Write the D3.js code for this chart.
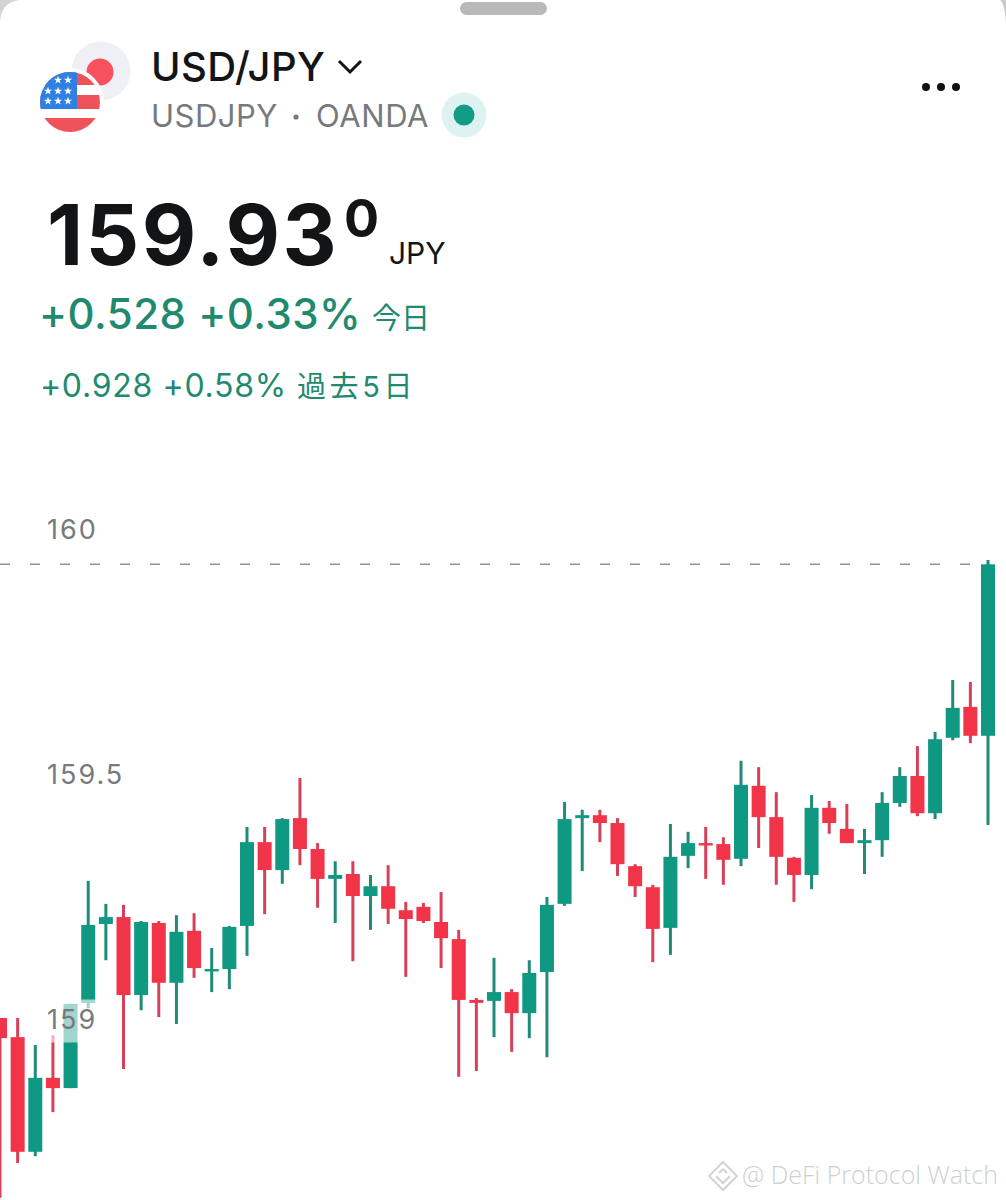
<!DOCTYPE html>
<html>
<head>
<meta charset="utf-8">
<title>USD/JPY</title>
<script src="https://cdn.jsdelivr.net/npm/d3@7/dist/d3.min.js"></script>
<style>
  html, body { margin: 0; padding: 0; background: #fff; }
  svg { display: block; }
  text { font-family: Inter, "Noto Sans CJK JP", sans-serif; }
</style>
</head>
<body>
<script>
// candles, oldest first
const opens = [159.004,158.965,158.731,158.882,158.861,159.035,159.196,159.210,159.051,159.198,159.076,159.182,159.100,159.104,159.192,159.363,159.306,159.412,159.349,159.288,159.298,159.253,159.273,159.224,159.231,159.200,159.165,159.041,159.039,159.057,159.014,159.098,159.237,159.412,159.418,159.402,159.314,159.271,159.188,159.335,159.361,159.359,159.329,159.478,159.414,159.331,159.296,159.433,159.390,159.361,159.367,159.443,159.498,159.422,159.576,159.639,159.580];
const highs = [159.004,159.004,158.949,158.969,159.033,159.284,159.237,159.235,159.202,159.202,159.214,159.218,159.147,159.192,159.394,159.394,159.412,159.494,159.361,159.324,159.324,159.296,159.316,159.241,159.239,159.261,159.184,159.045,159.127,159.063,159.122,159.251,159.445,159.429,159.429,159.412,159.318,159.276,159.400,159.384,159.394,159.373,159.529,159.516,159.465,159.333,159.459,159.447,159.441,159.390,159.465,159.516,159.559,159.588,159.694,159.690,159.939];
const lows = [158.637,158.708,158.722,158.812,158.861,159.024,159.122,158.900,159.020,159.006,158.992,159.086,159.057,159.063,159.131,159.216,159.278,159.316,159.229,159.198,159.120,159.184,159.196,159.088,159.198,159.106,158.884,158.896,158.965,158.935,158.963,158.924,159.233,159.304,159.363,159.294,159.251,159.118,159.133,159.310,159.288,159.276,159.314,159.351,159.276,159.241,159.267,159.380,159.361,159.298,159.333,159.435,159.416,159.410,159.571,159.565,159.398];
const closes = [158.963,158.731,158.882,158.861,159.033,159.194,159.210,159.051,159.200,159.076,159.180,159.106,159.104,159.190,159.363,159.306,159.410,159.349,159.288,159.296,159.253,159.273,159.227,159.206,159.202,159.167,159.041,159.035,159.057,159.014,159.096,159.235,159.410,159.418,159.402,159.318,159.273,159.186,159.333,159.361,159.357,159.327,159.480,159.414,159.333,159.296,159.433,159.402,159.361,159.367,159.443,159.498,159.422,159.573,159.637,159.580,159.930];

const yTicks = [160, 159.5, 159];
const yTickLabels = ['160', '159.5', '159'];
const lastPrice = 159.93;

const GREEN = '#0f9982';
const RED = '#f23448';
const WICK_GREEN = '#1f8c78';
const WICK_RED = '#d8405a';
const TEXT_GREEN = '#1f8a70';
const GREY = '#777a7d';

const width = 1006;
const height = 1200;

const svg = d3.select('body').append('svg')
  .attr('width', width)
  .attr('height', height)
  .attr('viewBox', '0 0 ' + width + ' ' + height);

// scales: 160 sits at y=530, 0.5 is about 245px, candles are 17.64px apart
const x = d3.scaleLinear().domain([0, opens.length - 1]).range([0, 988]);
const y = d3.scaleLinear().domain([160, 159]).range([530, 1020]);

// --- sheet frame
svg.append('path').attr('d', 'M0,24 Q0,2 20,0 L0,0 Z').attr('fill', '#d4d4d4');
svg.append('path').attr('d', 'M1006,24 Q1005,4 1000,0 L1006,0 Z').attr('fill', '#c9c9c9');
svg.append('rect').attr('x', 460).attr('y', 2).attr('width', 87).attr('height', 13)
  .attr('rx', 6.5).attr('fill', '#b9b9b9');

// --- flags
const flags = svg.append('g');
flags.append('circle').attr('cx', 101).attr('cy', 71).attr('r', 29.5).attr('fill', '#eef0f6');
flags.append('circle').attr('cx', 100).attr('cy', 72).attr('r', 13.5).attr('fill', '#f7515e');
flags.append('circle').attr('cx', 70).attr('cy', 102).attr('r', 34).attr('fill', '#fff');
const clip = svg.append('clipPath').attr('id', 'usClip');
clip.append('circle').attr('cx', 70).attr('cy', 102).attr('r', 30);
const us = flags.append('g').attr('clip-path', 'url(#usClip)');
[[72, 13], [95, 14], [118, 15]].forEach(function (s) {
  us.append('rect').attr('x', 40).attr('y', s[0]).attr('width', 60).attr('height', s[1]).attr('fill', '#ef5258');
});
us.append('rect').attr('x', 40).attr('y', 72).attr('width', 37).attr('height', 37).attr('fill', '#2f80e2');
const star = d3.symbol().type(d3.symbolStar).size(22);
[[58, 80], [68, 80], [48, 91], [58, 91], [68, 91], [48, 101], [58, 101], [68, 101]].forEach(function (p) {
  us.append('path').attr('d', star()).attr('fill', '#fff')
    .attr('transform', 'translate(' + p[0] + ',' + p[1] + ')');
});

// --- header text
function label(xPos, yPos, str, size, weight, color, spacing) {
  return svg.append('text').attr('x', xPos).attr('y', yPos)
    .attr('font-size', size).attr('font-weight', weight).attr('fill', color)
    .attr('letter-spacing', spacing || 0).text(str);
}
label(151, 81, 'USD/JPY', 40, 500, '#131416', 0.4);
svg.append('path').attr('d', 'M339,61 L350,72 L361,61').attr('fill', 'none')
  .attr('stroke', '#131416').attr('stroke-width', 3);
label(151, 127, 'USDJPY', 31, 400, GREY, 0.5);
svg.append('circle').attr('cx', 296).attr('cy', 117).attr('r', 2.6).attr('fill', GREY);
label(316, 127, 'OANDA', 31, 400, GREY, 0.6);
svg.append('circle').attr('cx', 464).attr('cy', 115).attr('r', 22.5).attr('fill', '#def2f4');
svg.append('circle').attr('cx', 464).attr('cy', 115).attr('r', 10.5).attr('fill', '#129c85');
[926, 941, 956].forEach(function (cx) {
  svg.append('circle').attr('cx', cx).attr('cy', 87).attr('r', 4).attr('fill', '#111');
});

label(47, 265, '159.93', 84, 700, '#131416', 2.4);
label(344, 237, '0', 52, 700, '#131416');
label(389, 264, 'JPY', 30, 400, '#131416');

label(39, 329, '+0.528 +0.33%', 42, 500, TEXT_GREEN, 0.5);
label(372, 329, '今日', 29, 400, TEXT_GREEN);
label(40, 397, '+0.928 +0.58%', 32, 400, TEXT_GREEN, 0.7);
label(297, 397, '過去5日', 29, 400, TEXT_GREEN, 3.6);

// --- candles
const data = opens.map(function (o, i) {
  return { i: i, open: o, high: highs[i], low: lows[i], close: closes[i] };
});
const bodyWidth = 14;
const candles = svg.append('g').selectAll('g').data(data).join('g');
candles.append('line')
  .attr('x1', function (d) { return x(d.i); })
  .attr('x2', function (d) { return x(d.i); })
  .attr('y1', function (d) { return y(d.high); })
  .attr('y2', function (d) { return y(d.low); })
  .attr('stroke', function (d) { return d.close >= d.open ? WICK_GREEN : WICK_RED; })
  .attr('stroke-width', 3);
candles.append('rect')
  .attr('fill', function (d) { return d.close >= d.open ? GREEN : RED; })
  .attr('x', function (d) { return x(d.i) - bodyWidth / 2; })
  .attr('width', bodyWidth)
  .attr('y', function (d) { return y(Math.max(d.open, d.close)); })
  .attr('height', function (d) { return Math.max(2.4, Math.abs(y(d.open) - y(d.close))); });

// --- last price line
svg.append('line')
  .attr('x1', 0).attr('x2', 980)
  .attr('y1', y(lastPrice)).attr('y2', y(lastPrice))
  .attr('stroke', '#8f9193').attr('stroke-width', 1.6)
  .attr('stroke-dasharray', '10 20');

// --- y axis, labels sit inside the plot with a see-through white plate
const axisG = svg.append('g').attr('transform', 'translate(47,0)')
  .call(d3.axisRight(y)
    .tickValues(yTicks)
    .tickSize(0)
    .tickPadding(0)
    .tickFormat(function (d, i) { return yTickLabels[i]; }));
axisG.select('.domain').remove();
axisG.selectAll('.tick').insert('rect', 'text')
  .attr('x', 0).attr('y', -21).attr('width', 50).attr('height', 43)
  .attr('fill', '#fff').attr('fill-opacity', 0.6);
axisG.selectAll('.tick').filter(function (d) { return d !== 159; }).select('rect').remove();
axisG.selectAll('text')
  .attr('font-size', 27)
  .attr('letter-spacing', 2)
  .attr('font-family', 'Inter, sans-serif')
  .attr('fill', GREY);

// --- watermark
const wm = svg.append('g').attr('fill', 'none').attr('stroke', '#d3d3d3').attr('stroke-width', 2);
wm.append('path').attr('d', 'M723,1162 L737,1176 L723,1190 L709,1176 Z');
wm.append('path').attr('d', 'M716,1176 L723,1183 L730,1176 M723,1169 L719,1173 M723,1169 L727,1173');
svg.append('text').attr('x', 742).attr('y', 1184)
  .attr('font-size', 25).attr('fill', '#cfcfcf')
  .style('font-family', '"Open Sans", sans-serif').style('font-weight', 300)
  .text('@ DeFi Protocol Watch');
</script>
</body>
</html>
